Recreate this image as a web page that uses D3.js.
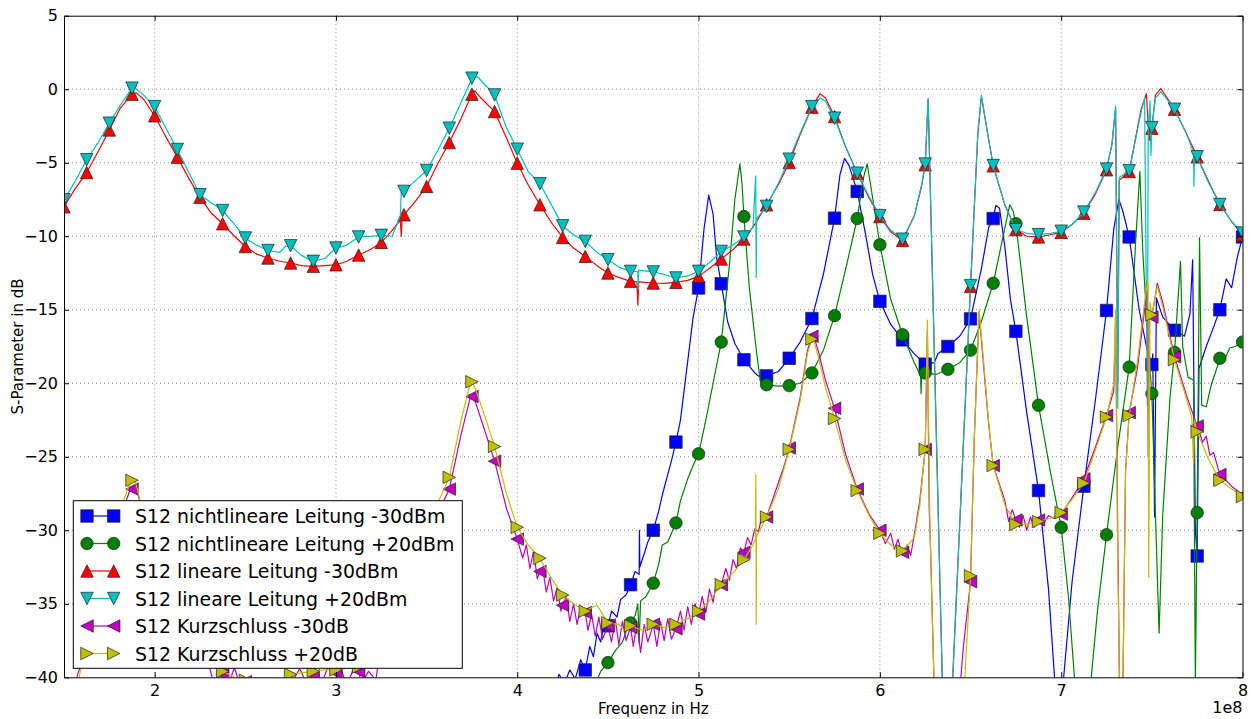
<!DOCTYPE html>
<html>
<head>
<meta charset="utf-8">
<script src="https://cdn.jsdelivr.net/npm/d3@7"></script>
<style>
  body { margin: 0; background: #fff; }
  text { font-family: "DejaVu Sans", sans-serif; fill: #000; }
</style>
</head>
<body>
<script>
// marker frequencies (in 1e8 Hz), one marker every 12.5 MHz
const freqE8 = [1.5,1.625,1.75,1.875,2,2.125,2.25,2.375,2.5,2.625,2.75,2.875,3,3.125,3.25,3.375,3.5,3.625,3.75,3.875,
  4,4.125,4.25,4.375,4.5,4.625,4.75,4.875,5,5.125,5.25,5.375,5.5,5.625,5.75,5.875,6,6.125,6.25,6.375,
  6.5,6.625,6.75,6.875,7,7.125,7.25,7.375,7.5,7.625,7.75,7.875,8];

// values at the marker frequencies (dB), null = below the plot
const blueMarks = [null,null,null,null,null,null,null,null,null,null,null,null,null,null,null,null,null,null,null,null,
  null,null,null,-39.5,-36.5,-33.7,-30.0,-24.0,-13.52,-13.23,-18.4,-19.5,-18.3,-15.6,-8.77,-6.95,-14.43,-17.05,-18.7,-17.5,
  -15.62,-8.8,-16.47,-27.3,null,-27.0,-15.05,-10.05,-18.73,-16.4,-31.75,-15.0,-10.05];
const greenMarks = [null,null,null,null,null,null,null,null,null,null,null,null,null,null,null,null,null,null,null,null,
  null,null,null,null,-39.0,-36.3,-33.6,-29.5,-24.8,-17.2,-8.66,-20.1,-20.16,-19.3,-15.4,-8.8,-10.58,-16.7,-19.3,-19.05,
  -17.75,-13.2,-9.15,-21.5,-29.8,null,-30.3,-18.9,-20.7,-17.9,-28.8,-18.3,-17.2];
const redMarks = [-8.0,-5.67,-2.77,-0.34,-1.81,-4.62,-7.34,-9.15,-10.7,-11.48,-11.82,-12.05,-11.94,-11.28,-10.42,-8.54,-6.61,-3.63,-0.34,-1.52,
  -5.03,-7.86,-10.08,-11.37,-12.5,-13.07,-13.18,-13.14,-12.73,-11.55,-10.19,-7.86,-4.99,-1.22,-1.86,-5.71,-8.66,-10.29,-5.14,null,
  -13.42,-5.21,-9.55,-10.05,-9.74,-8.43,-5.48,-5.6,-2.65,-1.36,-4.6,-7.84,-9.9];
const cyanMarks = [-7.52,-4.8,-2.31,0.07,-1.18,-4.1,-7.18,-8.25,-10.12,-10.97,-10.65,-11.71,-10.8,-10.05,-9.94,-6.95,-5.53,-2.65,0.75,-0.39,
  -4.08,-6.43,-9.29,-10.35,-11.6,-12.39,-12.43,-12.84,-12.39,-11.03,-10.05,-7.97,-4.76,-1.18,-1.97,-5.71,-8.6,-10.2,-5.09,null,
  -13.36,-5.19,-9.55,-9.89,-9.66,-8.36,-5.43,-5.55,-2.61,-1.36,-4.6,-7.84,-9.78];
const magentaMarks = [null,-38.5,-32.0,-27.2,-33.5,-37.0,-38.8,-39.8,-40.3,-41.0,-40.5,-39.9,-39.7,-39.6,-37.5,-34.0,-30.5,-27.2,-20.9,-25.3,
  -30.6,-32.8,-35.1,-35.6,-36.5,-36.6,-36.4,-36.7,-35.7,-33.7,-31.5,-29.1,-24.4,-16.8,-21.7,-27.2,-30.0,-31.5,-24.5,null,
  -33.5,-25.6,-29.3,-29.3,-28.9,-26.5,-22.2,-22.0,-15.5,-18.2,-22.9,-26.2,-27.6];
const yellowMarks = [null,-37.5,-31.5,-26.6,-33.0,-36.5,-38.5,-39.6,-40.2,-40.8,-39.8,-39.6,-39.5,-39.3,-37.0,-33.3,-29.8,-26.4,-19.9,-24.3,
  -29.8,-31.9,-34.4,-35.5,-36.3,-36.5,-36.4,-36.4,-35.5,-33.7,-32.0,-29.1,-24.5,-17.0,-22.4,-27.3,-30.2,-31.4,-24.5,null,
  -33.1,-25.6,-29.6,-29.4,-28.8,-26.8,-22.3,-22.2,-15.35,-18.4,-23.3,-26.6,-27.7];

// extra points of the measured curves between the markers [freq 1e8 Hz, dB]
const blueDetail = [[4.2,-41],[4.23,-39.8],[4.26,-40.4],[4.29,-39.5],[4.32,-40.1],[4.35,-38.8],[4.4,-37.9],[4.42,-38.6],[4.44,-37.0],
  [4.46,-37.6],[4.48,-36.2],[4.52,-35.5],[4.55,-35.9],[4.57,-34.7],[4.6,-34.4],[4.65,-32.8],[4.672,-33.0],[4.674,-30.0],[4.676,-32.5],
  [4.7,-31.6],[4.72,-30.8],[4.78,-28.7],[4.8,-27.6],[4.83,-26.2],[4.85,-25.3],[4.9,-22.5],[4.94,-18.5],[4.97,-15.5],[5.03,-9.5],
  [5.056,-7.2],[5.08,-8.5],[5.1,-11.5],[5.16,-15.8],[5.2,-17.3],[5.31,-19.3],[5.35,-19.7],[5.44,-19.2],[5.56,-17.2],[5.69,-12.5],
  [5.78,-5.8],[5.805,-4.7],[5.83,-5.2],[5.92,-9.8],[5.96,-12.6],[6.06,-16.0],[6.19,-18.0],[6.3,-18.6],[6.32,-18.0],[6.44,-16.8],
  [6.56,-12.2],[6.6,-9.4],[6.64,-7.9],[6.66,-8.1],[6.69,-10.8],[6.72,-14.3],[6.81,-22.0],[6.93,-34.0],[6.966,-40.5],[6.99,-45],
  [7.01,-40.5],[7.06,-33.5],[7.19,-21.0],[7.29,-9.5],[7.318,-7.5],[7.34,-8.3],[7.43,-15.0],[7.47,-17.5],[7.505,-18.0],[7.515,-29.1],
  [7.525,-14.2],[7.56,-15.5],[7.68,-16.8],[7.71,-15.3],[7.725,-11.6],[7.74,-30.0],[7.76,-19.0],[7.8,-17.5],[7.84,-16.2],[7.91,-12.9],
  [7.94,-13.5],[7.97,-11.5]];
const greenDetail = [[4.43,-40.5],[4.46,-39.6],[4.54,-38.2],[4.58,-37.6],[4.6,-36.9],[4.65,-35.8],[4.665,-35.0],[4.672,-37.7],[4.68,-34.8],
  [4.71,-34.5],[4.78,-32.3],[4.8,-31.0],[4.83,-30.8],[4.9,-28.0],[4.94,-26.5],[4.97,-25.6],[5.04,-22.5],[5.08,-20.0],[5.17,-12.0],
  [5.2,-7.5],[5.228,-5.07],[5.24,-6.5],[5.28,-13.5],[5.316,-17.5],[5.34,-19.8],[5.44,-20.2],[5.56,-20.0],[5.69,-17.7],[5.81,-12.3],
  [5.91,-6.0],[5.93,-5.07],[5.95,-6.6],[6.06,-14.3],[6.19,-18.6],[6.225,-19.5],[6.227,-20.7],[6.23,-19.4],[6.31,-19.4],[6.44,-18.6],
  [6.56,-15.8],[6.68,-10.0],[6.716,-7.86],[6.735,-8.3],[6.81,-15.5],[6.94,-26.0],[7.04,-34.5],[7.076,-40.5],[7.12,-46],[7.162,-40.5],
  [7.2,-35.5],[7.31,-24.5],[7.41,-10.5],[7.434,-5.6],[7.45,-11.0],[7.48,-17.5],[7.52,-29.0],[7.54,-37.0],[7.56,-29.0],[7.6,-21.0],
  [7.658,-11.7],[7.67,-17.5],[7.7,-19.6],[7.73,-19.8],[7.74,-40.5],[7.763,-10.1],[7.775,-21.5],[7.8,-21.6],[7.83,-20.0],[7.85,-19.3],
  [7.9,-18.4],[7.93,-17.6],[7.96,-17.5]];
const redDetail = [[1.56,-6.8],[1.69,-4.2],[1.81,-1.3],[1.9,-0.25],[1.94,-0.7],[2.06,-3.2],[2.19,-6.1],[2.31,-8.4],[2.44,-10.0],
  [2.56,-11.2],[2.69,-11.7],[2.81,-12.0],[2.94,-12.0],[3.06,-11.7],[3.19,-10.9],[3.31,-9.6],[3.355,-8.9],[3.36,-10.0],[3.365,-8.8],
  [3.44,-7.6],[3.56,-5.1],[3.69,-2.0],[3.765,-0.1],[3.8,-0.6],[3.94,-3.3],[4.06,-6.5],[4.19,-9.1],[4.31,-10.8],[4.44,-12.0],
  [4.56,-12.8],[4.66,-13.1],[4.665,-14.7],[4.67,-13.1],[4.81,-13.2],[4.94,-13.0],[5.06,-12.2],[5.19,-10.9],[5.31,-9.2],[5.44,-6.5],
  [5.56,-3.1],[5.67,-0.3],[5.7,-0.6],[5.81,-3.9],[5.94,-7.4],[6.06,-9.7],[6.19,-8.6],[6.23,-6.6],[6.266,-0.7],[6.345,-40.5],
  [6.37,-50],[6.4,-40.5],[6.54,-3.1],[6.56,-0.5],[6.59,-2.7],[6.69,-7.9],[6.81,-10.0],[6.94,-9.9],[7.06,-9.2],[7.19,-7.1],
  [7.28,-3.7],[7.3,-1.3],[7.312,-20.0],[7.32,-6.2],[7.44,-1.4],[7.47,-0.3],[7.485,-3.5],[7.52,-0.4],[7.55,0.05],[7.69,-3.0],
  [7.81,-6.2],[7.94,-9.0]];
const cyanDetail = [[1.56,-6.3],[1.69,-3.6],[1.81,-1.1],[1.89,0.1],[1.94,-0.4],[2.06,-2.6],[2.19,-5.7],[2.31,-7.7],[2.44,-9.2],
  [2.56,-10.6],[2.69,-11.1],[2.72,-10.7],[2.81,-11.3],[2.94,-11.5],[3.06,-10.6],[3.19,-10.0],[3.31,-10.0],[3.355,-8.6],[3.36,-7.0],
  [3.44,-6.2],[3.56,-4.2],[3.69,-0.9],[3.78,0.85],[3.83,0.2],[3.94,-2.6],[4.06,-5.6],[4.19,-7.9],[4.31,-9.9],[4.44,-11.1],
  [4.56,-12.1],[4.665,-12.4],[4.667,-13.6],[4.67,-12.3],[4.81,-12.6],[4.94,-12.7],[5.06,-11.8],[5.19,-10.6],[5.3,-9.4],[5.315,-5.9],
  [5.318,-12.8],[5.32,-8.8],[5.44,-6.4],[5.56,-3.0],[5.67,-0.6],[5.7,-0.8],[5.81,-3.9],[5.94,-7.3],[6.06,-9.6],[6.19,-8.6],
  [6.23,-6.5],[6.266,-0.6],[6.345,-40.5],[6.37,-50],[6.4,-40.5],[6.54,-3.0],[6.56,-0.4],[6.59,-2.7],[6.69,-7.9],[6.81,-9.8],
  [6.94,-9.8],[7.06,-9.2],[7.19,-7.0],[7.28,-3.8],[7.3,-1.15],[7.312,-21.7],[7.32,-6.0],[7.44,-1.6],[7.46,-0.6],[7.475,-21.5],
  [7.48,-3.0],[7.49,-0.8],[7.495,-4.5],[7.52,-0.6],[7.55,-0.16],[7.69,-3.0],[7.73,-4.3],[7.732,-6.6],[7.735,-4.6],[7.81,-6.3],
  [7.94,-9.0]];
const magentaDetail = [[1.55,-41],[1.58,-39.6],[1.7,-34.5],[1.8,-29.5],[1.86,-27.4],[1.9,-27.0],[1.95,-30.0],[2.06,-35.0],[2.19,-37.8],
  [2.3,-39.2],[2.33,-40.6],[2.36,-39.4],[2.4,-40.8],[2.44,-39.3],[2.47,-40.6],[2.8,-39.4],[2.84,-40.5],[2.88,-39.3],[2.92,-40.4],
  [2.96,-39.2],[3.03,-39.5],[3.06,-40.6],[3.1,-39.3],[3.14,-40.4],[3.18,-39.6],[3.22,-40.2],[3.44,-32.3],[3.69,-23.5],[3.74,-21.0],
  [3.77,-21.3],[3.82,-23.2],[3.94,-28.5],[4.03,-31.9],[4.05,-31.0],[4.07,-32.6],[4.09,-31.4],[4.11,-33.3],[4.14,-32.6],[4.16,-34.2],
  [4.18,-33.2],[4.2,-34.8],[4.22,-33.9],[4.24,-35.5],[4.27,-34.5],[4.29,-36.2],[4.31,-35.0],[4.33,-36.4],[4.35,-35.2],[4.39,-36.8],
  [4.41,-35.7],[4.43,-37.2],[4.45,-35.9],[4.47,-37.4],[4.52,-37.6],[4.54,-36.0],[4.56,-37.8],[4.58,-36.2],[4.6,-37.5],[4.64,-37.9],
  [4.66,-36.3],[4.68,-38.3],[4.7,-36.4],[4.72,-37.6],[4.77,-37.9],[4.79,-36.2],[4.81,-37.5],[4.83,-36.0],[4.85,-37.4],[4.9,-35.5],
  [4.92,-36.8],[4.94,-35.2],[4.96,-36.4],[4.98,-35.0],[5.02,-34.5],[5.04,-35.6],[5.06,-34.0],[5.08,-34.9],[5.1,-33.4],[5.15,-32.6],
  [5.17,-33.4],[5.19,-32.0],[5.21,-32.6],[5.23,-31.2],[5.27,-30.5],[5.29,-31.0],[5.31,-29.9],[5.33,-30.1],[5.35,-29.0],[5.42,-27.5],
  [5.47,-25.7],[5.56,-21.0],[5.6,-17.8],[5.63,-16.6],[5.66,-17.8],[5.7,-19.8],[5.81,-24.8],[5.94,-28.9],[6.03,-30.9],[6.06,-30.2],
  [6.08,-31.3],[6.1,-30.6],[6.12,-31.6],[6.15,-31.0],[6.17,-31.7],[6.19,-30.3],[6.22,-28.0],[6.262,-16.4],[6.272,-28.5],[6.28,-31.5],
  [6.3,-41],[6.33,-48],[6.44,-41],[6.46,-38.0],[6.52,-24.0],[6.547,-15.2],[6.57,-18.5],[6.6,-22.8],[6.69,-28.0],[6.71,-29.4],
  [6.73,-28.6],[6.77,-29.8],[6.79,-29.0],[6.81,-30.0],[6.83,-29.1],[6.85,-29.8],[6.9,-29.6],[6.93,-29.0],[6.96,-29.2],[7.06,-27.8],
  [7.19,-24.3],[7.29,-20.5],[7.3,-15.5],[7.31,-28.0],[7.322,-41],[7.34,-41],[7.355,-26.0],[7.42,-19.0],[7.46,-15.0],[7.475,-13.1],
  [7.48,-25.0],[7.485,-15.5],[7.53,-13.2],[7.56,-14.5],[7.69,-20.8],[7.78,-24.0],[7.8,-23.6],[7.82,-24.9],[7.84,-24.7],[7.91,-26.6],
  [7.94,-27.0]];
const yellowDetail = [[1.55,-41],[1.58,-40.2],[1.7,-34.0],[1.8,-29.0],[1.86,-26.9],[1.89,-26.5],[1.95,-29.5],[2.06,-34.6],[2.19,-37.6],
  [2.31,-39.2],[2.44,-40.0],[2.56,-40.6],[2.69,-40.5],[2.81,-39.7],[2.94,-39.5],[3.06,-39.4],[3.19,-38.6],[3.31,-35.4],[3.44,-31.6],
  [3.56,-28.2],[3.69,-22.5],[3.745,-19.8],[3.77,-20.4],[3.82,-22.2],[3.94,-27.5],[4.06,-31.0],[4.19,-33.3],[4.31,-35.0],[4.42,-35.2],
  [4.44,-35.1],[4.56,-36.4],[4.6,-36.9],[4.69,-36.8],[4.81,-36.6],[4.94,-36.0],[5.06,-34.8],[5.19,-32.9],[5.3,-31.0],[5.313,-30.6],
  [5.316,-26.2],[5.318,-36.4],[5.32,-30.4],[5.44,-27.2],[5.56,-21.2],[5.6,-18.0],[5.63,-16.8],[5.66,-18.2],[5.7,-20.3],[5.81,-25.2],
  [5.94,-29.0],[6.06,-31.0],[6.19,-30.5],[6.22,-28.3],[6.262,-15.7],[6.27,-24.0],[6.275,-28.8],[6.28,-31.7],[6.3,-41],[6.34,-50],
  [6.464,-41],[6.52,-24.0],[6.547,-15.0],[6.57,-18.2],[6.6,-22.7],[6.69,-28.3],[6.81,-29.6],[6.94,-29.2],[7.06,-27.9],[7.19,-24.5],
  [7.29,-20.0],[7.3,-15.0],[7.31,-30.0],[7.322,-41],[7.34,-41],[7.355,-26.0],[7.42,-18.5],[7.46,-14.5],[7.478,-13.0],[7.483,-33.2],
  [7.49,-14.5],[7.53,-13.4],[7.56,-14.8],[7.69,-21.0],[7.72,-22.3],[7.73,-25.5],[7.735,-22.5],[7.81,-25.1],[7.94,-27.2]];

const xTicks = [2, 3, 4, 5, 6, 7, 8];
const yTicks = [5, 0, -5, -10, -15, -20, -25, -30, -35, -40];

// series table: drawing order as in the original figure
const series = [
  { label: "S12 nichtlineare Leitung -30dBm", marks: blueMarks, detail: blueDetail, color: "#0000ff", shape: "square" },
  { label: "S12 nichtlineare Leitung +20dBm", marks: greenMarks, detail: greenDetail, color: "#008000", shape: "circle" },
  { label: "S12 lineare Leitung -30dBm", marks: redMarks, detail: redDetail, color: "#ff0000", shape: "up" },
  { label: "S12 lineare Leitung +20dBm", marks: cyanMarks, detail: cyanDetail, color: "#00bfbf", shape: "down" },
  { label: "S12 Kurzschluss -30dB", marks: magentaMarks, detail: magentaDetail, color: "#bf00bf", shape: "left" },
  { label: "S12 Kurzschluss +20dB", marks: yellowMarks, detail: yellowDetail, color: "#bfbf00", shape: "right" }
];

const width = 1251, height = 719;
const margin = { top: 15.7, right: 8.5, bottom: 41.7, left: 64 };
const ms = 12.5;

const svg = d3.select("body").append("svg").attr("width", width).attr("height", height);

const x = d3.scaleLinear().domain([1.5, 8]).range([margin.left, width - margin.right]);
const y = d3.scaleLinear().domain([-40, 5]).range([height - margin.bottom, margin.top]);

svg.append("defs").append("clipPath").attr("id", "plot-clip")
  .append("rect")
  .attr("x", margin.left).attr("y", margin.top)
  .attr("width", width - margin.left - margin.right)
  .attr("height", height - margin.top - margin.bottom);

// grid
const grid = svg.append("g").attr("stroke", "#000").attr("stroke-width", 0.6)
  .attr("stroke-dasharray", "1,3").attr("opacity", 0.75);
grid.selectAll(".gx").data(xTicks.slice(0, -1)).enter().append("line")
  .attr("x1", d => x(d)).attr("x2", d => x(d))
  .attr("y1", y(-40)).attr("y2", y(5));
grid.selectAll(".gy").data(yTicks.slice(1, -1)).enter().append("line")
  .attr("x1", x(1.5)).attr("x2", x(8))
  .attr("y1", d => y(d)).attr("y2", d => y(d));

function markerPath(shape) {
  const h = ms / 2;
  switch (shape) {
    case "square": return `M${-h},${-h}h${ms}v${ms}h${-ms}Z`;
    case "circle": return `M${h},0A${h},${h} 0 1,1 ${-h},0A${h},${h} 0 1,1 ${h},0Z`;
    case "up": return `M0,${-h}L${h},${h}L${-h},${h}Z`;
    case "down": return `M0,${h}L${h},${-h}L${-h},${-h}Z`;
    case "left": return `M${-h},0L${h},${-h}L${h},${h}Z`;
    default: return `M${h},0L${-h},${-h}L${-h},${h}Z`;
  }
}

function buildLine(marks, detail) {
  const pts = [];
  marks.forEach((v, i) => { if (v !== null) pts.push([freqE8[i], v]); });
  detail.forEach(p => pts.push(p));
  return pts.sort((a, b) => a[0] - b[0]);
}

const line = d3.line().x(d => x(d[0])).y(d => y(d[1]));
const plot = svg.append("g").attr("clip-path", "url(#plot-clip)");

series.forEach(s => {
  plot.append("path")
    .datum(buildLine(s.marks, s.detail))
    .attr("fill", "none")
    .attr("stroke", s.color)
    .attr("stroke-width", 1.2)
    .attr("stroke-linejoin", "round")
    .attr("d", line);

  const pts = freqE8.map((f, i) => [f, s.marks[i]]).filter(d => d[1] !== null);
  plot.append("g").selectAll("path")
    .data(pts)
    .enter().append("path")
    .attr("transform", d => `translate(${x(d[0])},${y(d[1])})`)
    .attr("d", markerPath(s.shape))
    .attr("fill", s.color)
    .attr("stroke", "#222")
    .attr("stroke-width", 0.7);
});

// axes: ticks inside on all four sides
svg.append("g").attr("transform", `translate(${margin.left},0)`)
  .call(d3.axisLeft(y).tickValues(yTicks).tickSizeInner(-5).tickSizeOuter(0).tickPadding(6)
    .tickFormat(d => d < 0 ? "\u2212" + Math.abs(d) : String(d)))
  .call(g => g.selectAll("text").style("font-size", "16px").attr("font-family", "DejaVu Sans"));
svg.append("g").attr("transform", `translate(${width - margin.right},0)`)
  .call(d3.axisRight(y).tickValues(yTicks).tickSizeInner(-5).tickSizeOuter(0).tickFormat(""));
svg.append("g").attr("transform", `translate(0,${height - margin.bottom})`)
  .call(d3.axisBottom(x).tickValues(xTicks).tickSizeInner(-5).tickSizeOuter(0).tickPadding(7)
    .tickFormat(d3.format("d")))
  .call(g => g.selectAll("text").style("font-size", "16px").attr("font-family", "DejaVu Sans"));
svg.append("g").attr("transform", `translate(0,${margin.top})`)
  .call(d3.axisTop(x).tickValues(xTicks).tickSizeInner(-5).tickSizeOuter(0).tickFormat(""));

svg.selectAll(".domain").attr("stroke", "#000").attr("stroke-width", 1);
svg.selectAll(".tick line").attr("stroke", "#000");

svg.append("text")
  .attr("x", width - margin.right).attr("y", 707)
  .attr("text-anchor", "end").attr("dominant-baseline", "central")
  .style("font-size", "16px").text("1e8");

svg.append("text")
  .attr("x", (margin.left + width - margin.right) / 2).attr("y", 709)
  .attr("text-anchor", "middle").attr("dominant-baseline", "central")
  .style("font-size", "15px").text("Frequenz in Hz");

svg.append("text")
  .attr("transform", `translate(17.5,${(margin.top + height - margin.bottom) / 2}) rotate(-90)`)
  .attr("text-anchor", "middle").attr("dominant-baseline", "central")
  .style("font-size", "15px").text("S-Parameter in dB");

// legend
const legend = svg.append("g");
legend.append("rect")
  .attr("x", 73.3).attr("y", 500.7).attr("width", 389).attr("height", 167.6)
  .attr("fill", "#fff").attr("stroke", "#000").attr("stroke-width", 1);

series.forEach((s, i) => {
  const ly = 516 + i * 27.5;
  legend.append("line")
    .attr("x1", 87).attr("x2", 113.7).attr("y1", ly).attr("y2", ly)
    .attr("stroke", s.color).attr("stroke-width", 1.2);
  [87, 113.7].forEach(lx => {
    legend.append("path")
      .attr("transform", `translate(${lx},${ly})`)
      .attr("d", markerPath(s.shape))
      .attr("fill", s.color).attr("stroke", "#222").attr("stroke-width", 0.7);
  });
  legend.append("text")
    .attr("x", 135).attr("y", ly)
    .attr("dominant-baseline", "central")
    .style("font-size", "18.9px")
    .text(s.label);
});
</script>
</body>
</html>
